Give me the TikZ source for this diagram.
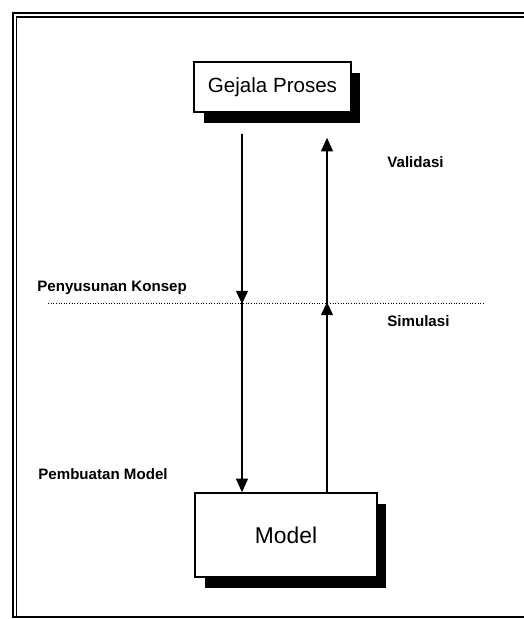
\documentclass[tikz,border=0pt]{standalone}
\usepackage{fontspec}
\setmainfont{Liberation Sans}
\usetikzlibrary{arrows.meta,shadows,decorations.markings}

\begin{document}
\begin{tikzpicture}[x=0.02cm,y=0.02cm,
    kotak/.style={draw,line width=1pt,fill=white,inner sep=0pt,
      drop shadow={shadow xshift=0.19cm,shadow yshift=-0.22cm,fill=black,opacity=1}},
    ket/.style={anchor=base west,inner sep=0pt,font=\bfseries\fontsize{8.6}{10}\selectfont},
    alur/.style={line width=0.6pt,-{Triangle[width=0.24cm,length=0.27cm]}},
    tengah/.style={postaction={decorate},decoration={markings,
      mark=at position #1 with {\arrow{Triangle[width=0.24cm,length=0.26cm]}}}}]
  \useasboundingbox (0,0) rectangle (524,619);
  % bingkai
  \draw[line width=1pt] (530,606) -- (13,606) -- (13,2) -- (530,2);
  \draw[line width=0.6pt] (530,602) -- (16.5,602) -- (16.5,2);
  % kotak
  \node[kotak,minimum width=3.14cm,minimum height=1cm,font=\fontsize{11.7}{14}\selectfont]
    (gejala) at (272.5,532) {Gejala Proses};
  \node[kotak,minimum width=3.64cm,minimum height=1.68cm,font=\fontsize{13}{16}\selectfont]
    (model) at (286,84) {Model};
  % garis batas
  \draw[densely dotted,line width=0.5pt] (48,316) -- (483,316);
  % panah
  \coordinate (dn) at (242,0);
  \coordinate (up) at (327,0);
  \draw[alur,tengah=3.4cm] ([yshift=-0.42cm]gejala.south -| dn) -- (model.north -| dn);
  \draw[alur,tengah=3.8cm] (model.north -| up) -- ([yshift=-0.5cm]gejala.south -| up);
  % keterangan
  \node[ket] (konsep) at (37,327) {Penyusunan Konsep};
  \node[ket] (validasi) at (387,451) {Validasi};
  \node[ket] (simulasi) at (387,292) {Simulasi};
  \node[ket] (pembuatan) at (38,139) {Pembuatan Model};
\end{tikzpicture}
\end{document}
